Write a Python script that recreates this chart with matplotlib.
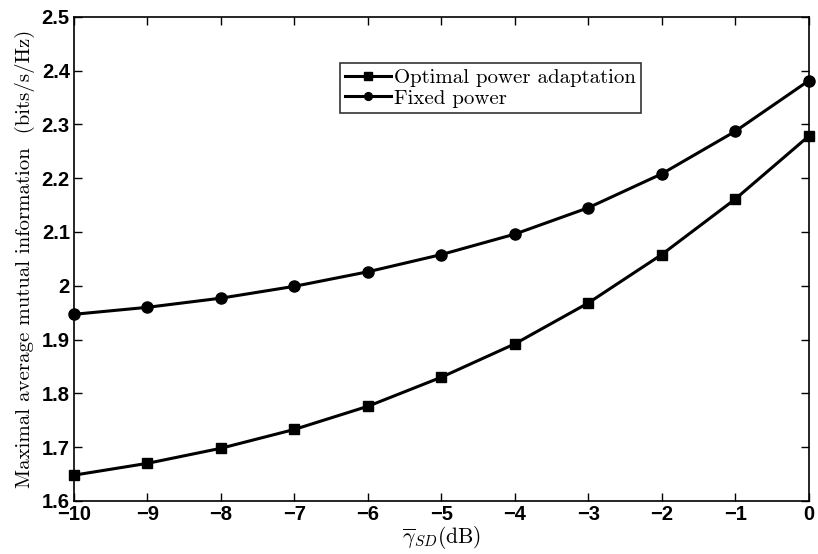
import matplotlib.pyplot as plt
import numpy as np

plt.rcParams["mathtext.fontset"] = "cm"

snr_db = [-10, -9, -8, -7, -6, -5, -4, -3, -2, -1, 0]
optimal = [1.648, 1.670, 1.698, 1.733, 1.776, 1.830, 1.892, 1.968, 2.058, 2.161, 2.278]
fixed = [1.947, 1.960, 1.977, 1.999, 2.026, 2.058, 2.096, 2.145, 2.208, 2.287, 2.381]

x_ticks = [-10, -9, -8, -7, -6, -5, -4, -3, -2, -1, 0]
y_ticks = [1.6, 1.7, 1.8, 1.9, 2.0, 2.1, 2.2, 2.3, 2.4, 2.5]
y_labels = ["1.6", "1.7", "1.8", "1.9", "2", "2.1", "2.2", "2.3", "2.4", "2.5"]

fig = plt.figure(figsize=(8.18, 5.54), dpi=100)
ax = fig.add_axes([0.0905, 0.0957, 0.898, 0.874])

ax.plot(snr_db, optimal, "k-", marker="s", markersize=7.5, linewidth=2.2,
        label="Optimal power adaptation", clip_on=False, zorder=3)
ax.plot(snr_db, fixed, "k-", marker="o", markersize=8, linewidth=2.2,
        label="Fixed power", clip_on=False, zorder=3)

ax.set_xlim(-10, 0)
ax.set_ylim(1.6, 2.5)
ax.set_xticks(x_ticks)
ax.set_yticks(y_ticks)
ax.set_yticklabels(y_labels)
ax.tick_params(direction="in", top=True, right=True, length=6, width=1,
               labelsize=14.5, pad=3)
for lab in ax.get_xticklabels() + ax.get_yticklabels():
    lab.set_fontweight("bold")
    lab.set_fontfamily("Liberation Sans")
for s in ax.spines.values():
    s.set_linewidth(1.2)

ax.set_xlabel(r"$\overline{\gamma}_{SD}$(dB)", fontsize=15.5, family="cmr10", labelpad=0)
ax.set_ylabel("Maximal average mutual information  (bits/s/Hz)", fontsize=15,
              family="cmr10", labelpad=5)

leg = ax.legend(loc="upper left", bbox_to_anchor=(0.362, 0.904),
                prop={"family": "cmr10", "size": 15},
                frameon=True, fancybox=False, edgecolor="black", markerscale=0.7,
                handlelength=2.2, handletextpad=0.15, borderpad=0.25, labelspacing=0.1,
                borderaxespad=0)
leg.get_frame().set_linewidth(1.2)

fig.savefig("out.png", dpi=100)
